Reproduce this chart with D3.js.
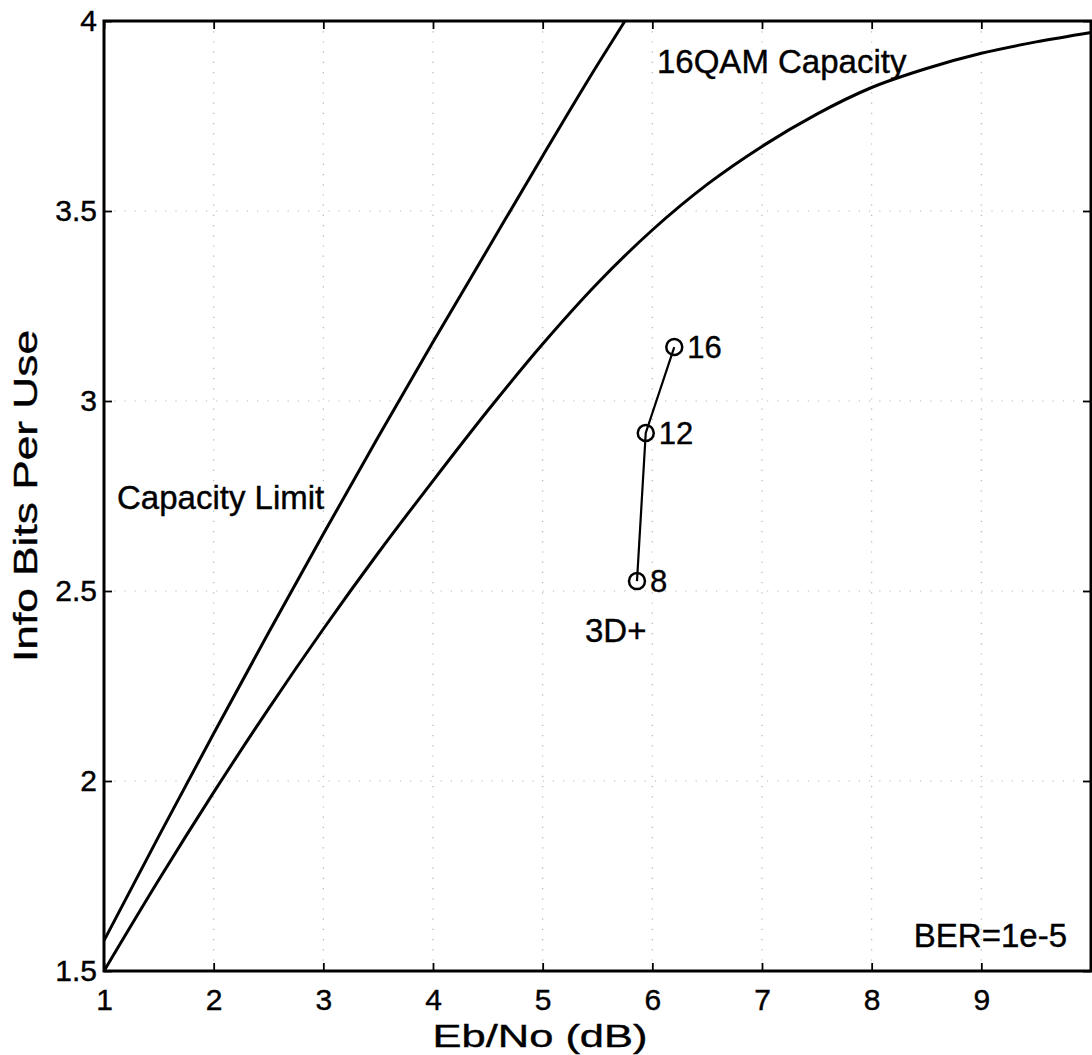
<!DOCTYPE html>
<html>
<head>
<meta charset="utf-8">
<script src="https://cdn.jsdelivr.net/npm/d3@7"></script>
<style>
  html, body { margin: 0; padding: 0; background: #fff; }
  svg { display: block; }
  text { font-family: "Liberation Sans", Arial, Helvetica, sans-serif; fill: #000; stroke: #000; stroke-width: 0.4px; }
</style>
</head>
<body>
<svg id="chart" width="1092" height="1055"></svg>
<script>
// ---- data ----
const xTicks = [1, 2, 3, 4, 5, 6, 7, 8, 9, 10];
const xTickLabels = ["1", "2", "3", "4", "5", "6", "7", "8", "9", ""];
const yTicks = [1.5, 2, 2.5, 3, 3.5, 4];
const yTickLabels = ["1.5", "2", "2.5", "3", "3.5", "4"];

// Capacity limit curve
const capLimitX = [1.0, 1.5, 2.0, 2.5, 3.0, 3.5, 4.0, 4.5, 5.0, 5.5, 5.75];
const capLimitY = [1.58, 1.855, 2.125, 2.39, 2.65, 2.905, 3.155, 3.40, 3.645, 3.885, 4.0];

// 16QAM capacity curve
const qamX = [1.0, 1.5, 2.0, 2.5, 3.0, 3.5, 4.0, 4.5, 5.0, 5.5, 6.0, 6.5, 7.0, 7.5, 8.0, 8.5, 9.0, 9.5, 10.0];
const qamY = [1.50, 1.74, 1.97, 2.19, 2.40, 2.60, 2.79, 2.975, 3.15, 3.31, 3.45, 3.57, 3.67, 3.755, 3.825, 3.875, 3.915, 3.945, 3.97];

// 3D+ points
const d3pX = [5.86, 5.94, 6.20];
const d3pY = [2.526, 2.916, 3.142];
const d3pLabels = ["8", "12", "16"];

// ---- layout ----
const mLeft = 104, mRight = 1091, mTop = 21, mBottom = 971;
const svg = d3.select("#chart");
const x = d3.scaleLinear().domain([1, 10]).range([mLeft, mRight]);
const y = d3.scaleLinear().domain([1.5, 4]).range([mBottom, mTop]);

// grid (dotted)
const grid = svg.append("g").attr("stroke", "#b5b5b5").attr("stroke-width", 1.2)
  .attr("stroke-dasharray", "1.2,9");
grid.selectAll("line.gx").data(xTicks.slice(1, -1)).join("line")
  .attr("x1", d => x(d)).attr("x2", d => x(d)).attr("y1", mTop).attr("y2", mBottom);
grid.selectAll("line.gy").data(yTicks.slice(1, -1)).join("line")
  .attr("x1", mLeft).attr("x2", mRight).attr("y1", d => y(d)).attr("y2", d => y(d));

// axes
const tickFont = "30px";
const gB = svg.append("g").attr("transform", `translate(0,${mBottom})`)
  .call(d3.axisBottom(x).tickValues(xTicks).tickSize(-8).tickPadding(18)
    .tickFormat((d, i) => xTickLabels[i]));
const gT = svg.append("g").attr("transform", `translate(0,${mTop})`)
  .call(d3.axisTop(x).tickValues(xTicks).tickSize(-8).tickFormat(""));
const gL = svg.append("g").attr("transform", `translate(${mLeft},0)`)
  .call(d3.axisLeft(y).tickValues(yTicks).tickSize(-8).tickPadding(7)
    .tickFormat((d, i) => yTickLabels[i]));
const gR = svg.append("g").attr("transform", `translate(${mRight},0)`)
  .call(d3.axisRight(y).tickValues(yTicks).tickSize(-8).tickFormat(""));
[gB, gT, gL, gR].forEach(g => {
  g.select(".domain").remove();
  g.selectAll(".tick line").attr("stroke", "#000").attr("stroke-width", 1.8);
  g.selectAll("text").attr("font-size", tickFont)
    .attr("font-family", "'Liberation Sans', Arial, sans-serif").attr("fill", "#000");
});

// frame
svg.append("rect").attr("x", mLeft).attr("y", mTop)
  .attr("width", mRight - mLeft).attr("height", mBottom - mTop)
  .attr("fill", "none").attr("stroke", "#000").attr("stroke-width", 3);

// curves
const line = d3.line().x(d => x(d[0])).y(d => y(d[1])).curve(d3.curveMonotoneX);
const straight = d3.line().x(d => x(d[0])).y(d => y(d[1]));
svg.append("path").datum(capLimitX.map((v, i) => [v, capLimitY[i]]))
  .attr("d", line).attr("fill", "none").attr("stroke", "#000").attr("stroke-width", 3);
svg.append("path").datum(qamX.map((v, i) => [v, qamY[i]]))
  .attr("d", line).attr("fill", "none").attr("stroke", "#000").attr("stroke-width", 3);

// 3D+ series
const pts = d3pX.map((v, i) => [v, d3pY[i], d3pLabels[i]]);
svg.append("path").datum(pts).attr("d", straight)
  .attr("fill", "none").attr("stroke", "#000").attr("stroke-width", 2.2);
svg.selectAll("circle.pt").data(pts).join("circle")
  .attr("cx", d => x(d[0])).attr("cy", d => y(d[1])).attr("r", 8)
  .attr("fill", "none").attr("stroke", "#000").attr("stroke-width", 2.5);
svg.selectAll("text.pl").data(pts).join("text")
  .attr("x", d => x(d[0]) + 13).attr("y", d => y(d[1]) + 11)
  .attr("font-size", "31px").text(d => d[2]);

// annotations
svg.append("text").attr("x", 657).attr("y", 73).attr("font-size", "33px").text("16QAM Capacity");
svg.append("text").attr("x", 117).attr("y", 509).attr("font-size", "33px").text("Capacity Limit");
svg.append("text").attr("x", 585).attr("y", 642).attr("font-size", "33px").text("3D+");
svg.append("text").attr("x", 1067).attr("y", 947).attr("text-anchor", "end")
  .attr("font-size", "33px").text("BER=1e-5");

// axis labels
svg.append("text").attr("x", 540).attr("y", 1047).attr("text-anchor", "middle")
  .attr("font-size", "32px").attr("textLength", 215).attr("lengthAdjust", "spacingAndGlyphs")
  .text("Eb/No (dB)");
svg.append("text").attr("transform", "translate(37,496) rotate(-90)")
  .attr("text-anchor", "middle").attr("font-size", "34px")
  .attr("textLength", 332).attr("lengthAdjust", "spacingAndGlyphs")
  .text("Info Bits Per Use");
</script>
</body>
</html>
